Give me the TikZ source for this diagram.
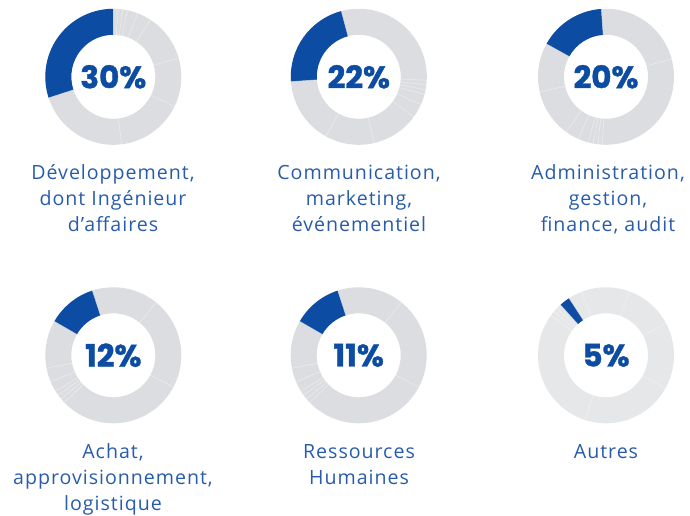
\documentclass[tikz,border=0pt]{standalone}
\usepackage{fontspec}
\setmainfont{Open Sans}[LetterSpace=5]
\newfontfamily\pctfont{Poppins}[BoldFeatures={FakeBold=1.2}]
\definecolor{segblue}{RGB}{12,76,162}
\definecolor{ringgrey}{RGB}{220,221,224}
\definecolor{ringlight}{RGB}{230,231,233}
\definecolor{labelblue}{RGB}{40,92,170}
\tikzset{
  blueseg/.style={fill=segblue},
  sepline/.style={draw=white, line width=0.45pt, opacity=0.5},
  pct/.style={text=segblue, font=\pctfont\bfseries\fontsize{31}{34}\selectfont, inner sep=0pt},
  lbl/.style={text=labelblue, font=\fontsize{19.6}{26}\selectfont, anchor=base, inner sep=0pt}
}
\newcommand\donutring[5]{%
  \fill[#5, even odd rule] (#1) circle[radius=68] (#1) circle[radius=42];
  \fill[blueseg] ([shift={(#1)}]#2+#3:68) arc[start angle=#2+#3, end angle=#2+#4, radius=68]
     -- ([shift={(#1)}]#2+#4:42) arc[start angle=#2+#4, end angle=#2+#3, radius=42] -- cycle;
  \foreach \b in {0,108,187,244,286,327,339,348,352,356}{%
    \draw[sepline] ([shift={(#1)}]#2+\b:42) -- ([shift={(#1)}]#2+\b:68);}
}
\begin{document}
\begin{tikzpicture}[x=1pt,y=1pt]
\useasboundingbox (0,0) rectangle (690,516);
\coordinate (c1) at (113.3,439.2);
\coordinate (c2) at (358.8,439.2);
\coordinate (c3) at (606,439.2);
\coordinate (c4) at (113.3,160.7);
\coordinate (c5) at (358.7,160.7);
\coordinate (c6) at (606,160.7);

\donutring{c1}{90}{0}{108}{ringgrey}
\donutring{c2}{-3}{108}{187}{ringgrey}
\donutring{c3}{-93}{187}{244}{ringgrey}
\donutring{c4}{224}{244}{286}{ringgrey}
\donutring{c5}{224}{244}{286}{ringgrey}
\donutring{c6}{144}{339}{348}{ringlight}

\node[pct] (p1) at (c1) {30\%};
\node[pct] (p2) at (c2) {22\%};
\node[pct] (p3) at (c3) {20\%};
\node[pct] (p4) at (c4) {12\%};
\node[pct] (p5) at (c5) {11\%};
\node[pct] (p6) at (c6) {5\%};

% row 1 labels
\node[lbl] (l1a) at (113,336) {Développement,};
\node[lbl] (l1b) at (113,310) {dont Ingénieur};
\node[lbl] (l1c) at (113,284) {d’affaires};
\node[lbl] (l2a) at (359,336) {Communication,};
\node[lbl] (l2b) at (359,310) {marketing,};
\node[lbl] (l2c) at (359,284) {événementiel};
\node[lbl] (l3a) at (608,336) {Administration,};
\node[lbl] (l3b) at (608,310) {gestion,};
\node[lbl] (l3c) at (608,284) {finance, audit};
% row 2 labels
\node[lbl] (l4a) at (113,57) {Achat,};
\node[lbl] (l4b) at (113,31) {approvisionnement,};
\node[lbl] (l4c) at (113,5) {logistique};
\node[lbl] (l5a) at (359,57) {Ressources};
\node[lbl] (l5b) at (359,31) {Humaines};
\node[lbl] (l6a) at (606,57) {Autres};
\end{tikzpicture}
\end{document}
